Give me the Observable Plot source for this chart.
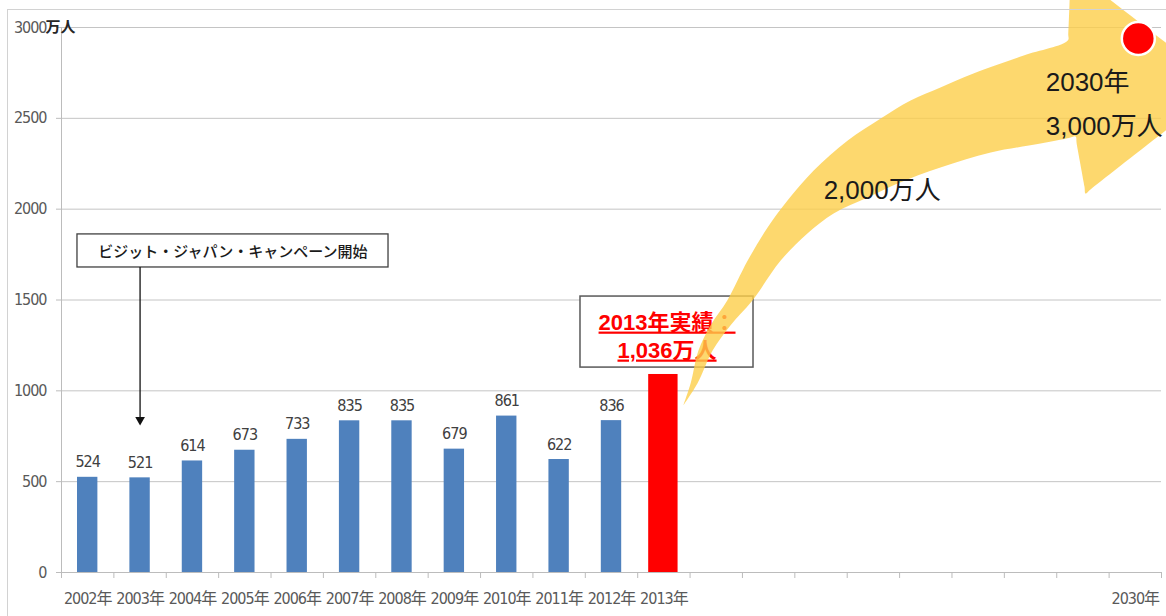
<!DOCTYPE html>
<html>
<head>
<meta charset="utf-8">
<script src="https://cdn.jsdelivr.net/npm/d3@7"></script>
<script src="https://cdn.jsdelivr.net/npm/@observablehq/plot@0.6"></script>
<style>
  html, body { margin: 0; padding: 0; background: #fff; overflow: hidden; width: 1166px; height: 616px; }
  #wrap { position: relative; width: 1166px; height: 616px; overflow: hidden; }
  #wrap svg { position: absolute; left: 0; top: 0; }
  #frame { position: absolute; left: 7px; top: 9px; width: 1300px; height: 800px;
           border-left: 1.5px solid #d2d2d2; border-top: 1.5px solid #d2d2d2; pointer-events: none; }
  g[fill="#ff0000"] text { text-decoration: underline; }
  g[font-size="16"] text { letter-spacing: -1px; }
</style>
</head>
<body>
<div id="wrap"><div id="frame"></div></div>
<script>
// ---- data ----
const years = ["2002年","2003年","2004年","2005年","2006年","2007年","2008年","2009年","2010年","2011年","2012年","2013年"];
const visitors = [524, 521, 614, 673, 733, 835, 835, 679, 861, 622, 836]; // 2002-2012, 万人
const bar2013 = 1090;          // red 2013 bar as drawn (result: 1,036万人)
const target2030 = 3000;       // 2030 goal, 万人
const xSlots = [...years, "", "", "", "", "", "", "", "", "2030年"];
const yTicks = [0, 500, 1000, 1500, 2000, 2500, 3000];

// ---- annotations (in category-index / value units) ----
const campaignText = "ビジット・ジャパン・キャンペーン開始";
const resultLines = ["2013年実績：", "1,036万人"];
const goalLabels = ["2,000万人", "2030年", "3,000万人"];

// outline of the curved yellow arrow: [category index, value]
const arrowOutline = [
  [11.87, 919], [12.01, 1040], [12.16, 1222], [12.39, 1360], [12.71, 1497], [13.10, 1717],
  [13.48, 1899], [13.86, 2048], [14.36, 2213], [15.01, 2378], [15.64, 2499], [16.21, 2598],
  [16.78, 2670], [17.41, 2747], [18.37, 2846], [19.21, 2928], [19.22, 2967],
  [19.26, 3281], [19.26, 3319], [19.37, 3296], [22.06, 2699], [22.17, 2675], [22.06, 2652],
  [19.65, 2110], [19.55, 2086], [19.53, 2124], [19.38, 2362], [19.36, 2400], [19.23, 2392],
  [18.69, 2361], [17.74, 2312], [16.78, 2229], [15.96, 2141], [15.39, 2064], [14.74, 1976],
  [14.24, 1866], [13.73, 1717], [13.19, 1497], [12.77, 1360], [12.43, 1222], [12.14, 1040],
  [11.87, 919]
];

const blueRows = visitors.map((v, i) => ({i, v}));
const redRow = {i: years.length - 1, v: bar2013};
const goalRow = {i: xSlots.length - 1, v: target2030};

const narrow = "'Liberation Sans Narrow','DejaVu Sans Condensed','Noto Sans CJK JP',sans-serif";
const sans = "'Liberation Sans','Noto Sans CJK JP',sans-serif";
const jp = "'Noto Sans CJK JP',sans-serif";

const centers = d3.range(xSlots.length).map(i => i + 0.5);
const bounds = d3.range(xSlots.length + 1);

const chart = Plot.plot({
  width: 1166,
  height: 616,
  marginLeft: 61,
  marginRight: 5,
  marginTop: 27,
  marginBottom: 44,
  x: {type: "linear", domain: [0, xSlots.length]},
  y: {domain: [0, 3000]},
  style: {background: "transparent", fontFamily: narrow},
  marks: [
    Plot.ruleY(yTicks.slice(1), {stroke: "#c4c4c4", strokeWidth: 1}),
    Plot.ruleX([0], {stroke: "#bcbcbc"}),
    Plot.ruleY([0], {stroke: "#bcbcbc"}),
    Plot.axisY({ticks: yTicks, tickSize: 5, tickFormat: () => "", stroke: "#bcbcbc", label: null}),
    Plot.axisY({ticks: yTicks, tickSize: 0, tickPadding: 15, tickFormat: d => String(d),
                fill: "#595959", fontSize: 16, fontFamily: narrow, label: null}),
    Plot.text([goalRow], {x: () => 0, y: "v", text: () => "万人", dx: -16, textAnchor: "start",
                fontWeight: "bold", fontSize: 15, fontFamily: jp, fill: "#262626"}),
    Plot.axisX({ticks: bounds, tickSize: 6, tickFormat: () => "", stroke: "#bcbcbc", label: null}),
    Plot.axisX({ticks: centers, tickSize: 0, tickPadding: 20, tickFormat: d => xSlots[Math.floor(d)],
                fill: "#595959", fontSize: 16, fontFamily: narrow, label: null}),

    Plot.rectY(blueRows, {x1: "i", x2: d => d.i + 1, y: "v", insetLeft: 16, insetRight: 16, fill: "#4f81bd"}),
    Plot.text(blueRows, {x: d => d.i + 0.5, y: "v", text: d => String(d.v), dy: -15,
                fill: "#404040", fontSize: 16, fontFamily: narrow}),
    Plot.rectY([redRow], {x1: "i", x2: d => d.i + 1, y: "v", insetLeft: 11, insetRight: 12, fill: "red"}),

    // campaign callout
    Plot.rect([{x1: 0.305, x2: 6.243, y1: 1679, y2: 1861}], {x1: "x1", x2: "x2", y1: "y1", y2: "y2",
                fill: "white", stroke: "#404040", strokeWidth: 1.3}),
    Plot.text([campaignText], {x: () => 3.274, y: () => 1763, text: d => d, fontFamily: jp,
                fontSize: 15, fill: "#1a1a1a", fontWeight: 500}),
    Plot.ruleX([{x: 1.5, y1: 1679, y2: 845}], {x: "x", y1: "y1", y2: "y2", stroke: "#111", strokeWidth: 1.3}),
    Plot.dot([{x: 1.5, y: 840}], {x: "x", y: "y", symbol: "triangle", r: 3.6, rotate: 180, fill: "#111", stroke: "none"}),

    // 2013 result callout
    Plot.rect([{x1: 9.908, x2: 13.211, y1: 1128, y2: 1519}], {x1: "x1", x2: "x2", y1: "y1", y2: "y2",
                fill: "white", stroke: "#595959", strokeWidth: 1.5}),
    Plot.text(resultLines, {x: () => 11.56, y: (d, i) => [1376, 1222][i], text: d => d,
                fill: "#ff0000", fontWeight: "bold", fontSize: 22, fontFamily: sans}),

    // curved yellow arrow
    Plot.line(arrowOutline, {x: d => d[0], y: d => d[1], curve: "catmull-rom",
                fill: "#fcce4a", fillOpacity: 0.8, stroke: "none"}),

    Plot.text(goalLabels, {x: (d, i) => [14.55, 18.79, 18.79][i], y: (d, i) => [2103, 2694, 2455][i],
                text: d => d, textAnchor: "start", fontSize: 26, fontFamily: sans, fill: "#1a1a1a"}),

    Plot.dot([goalRow], {x: d => d.i + 0.5, y: "v", dx: 3, dy: 11, r: 16.5, fill: "red",
                stroke: "white", strokeWidth: 2.5})
  ]
});

document.getElementById("wrap").insertBefore(chart, document.getElementById("frame"));
</script>
</body>
</html>
